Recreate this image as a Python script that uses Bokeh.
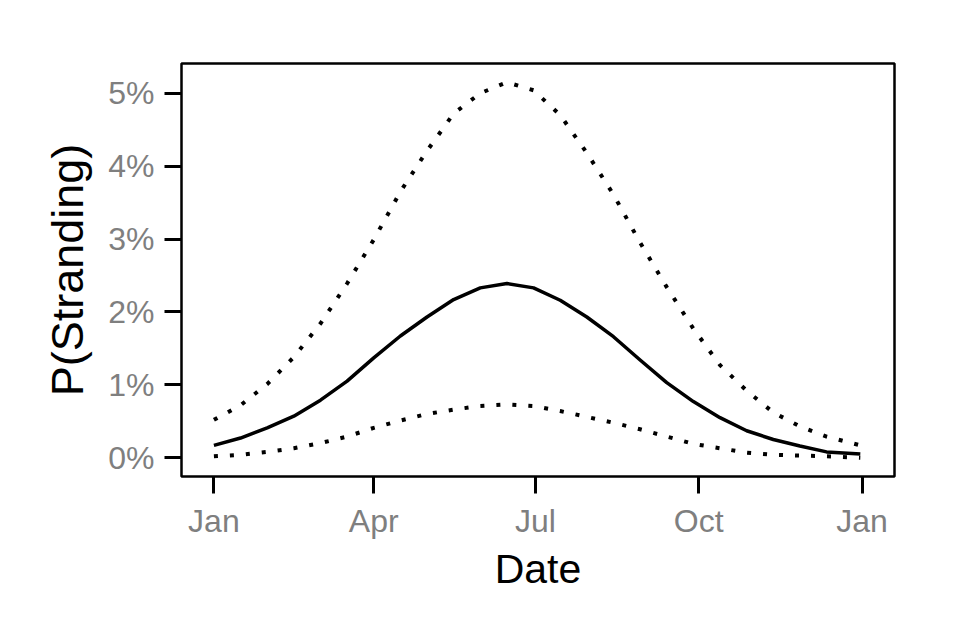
import pandas as pd
from bokeh.plotting import figure
from bokeh.models import Range1d, FixedTicker, DatetimeTickFormatter, PrintfTickFormatter, ColumnDataSource
from bokeh.embed import file_html
from bokeh.resources import INLINE

# ---- data ----
day_offsets = [0, 15, 30, 45, 60, 75, 90, 105, 120, 135, 150, 165, 180,
               195, 210, 225, 240, 255, 270, 285, 300, 315, 330, 345, 364]
mean_pct = [0.17, 0.27, 0.41, 0.57, 0.79, 1.05, 1.37, 1.67, 1.93, 2.17, 2.33, 2.39, 2.33,
            2.16, 1.93, 1.66, 1.34, 1.03, 0.77, 0.55, 0.37, 0.25, 0.16, 0.08, 0.05]
upper_pct = [0.52, 0.72, 1.01, 1.38, 1.84, 2.39, 2.99, 3.65, 4.21, 4.72, 5.00, 5.15, 5.04,
             4.70, 4.18, 3.61, 2.95, 2.34, 1.77, 1.27, 0.92, 0.62, 0.43, 0.29, 0.17]
lower_pct = [0.02, 0.04, 0.08, 0.13, 0.20, 0.29, 0.41, 0.51, 0.60, 0.66, 0.71, 0.73, 0.71,
             0.64, 0.56, 0.48, 0.39, 0.29, 0.19, 0.13, 0.07, 0.04, 0.03, 0.02, 0.00]
tick_dates = ["2015-01-01", "2015-04-01", "2015-07-01", "2015-10-01", "2016-01-01"]
y_ticks = [0, 1, 2, 3, 4, 5]

start = pd.Timestamp("2015-01-01")
dates = [start + pd.Timedelta(days=d) for d in day_offsets]
src = ColumnDataSource(dict(date=dates, mean=mean_pct, upper=upper_pct, lower=lower_pct))

tick_ms = [pd.Timestamp(t).value / 1e6 for t in tick_dates]
span = tick_ms[-1] - tick_ms[0]
pad = 0.05 * span
ymax = max(upper_pct)
ypad = 0.05 * ymax

p = figure(width=960, height=633, x_axis_type="datetime", output_backend="svg",
           toolbar_location=None,
           x_range=Range1d(tick_ms[0] - pad, tick_ms[-1] + pad),
           y_range=Range1d(-ypad, ymax + ypad))
p.min_border_left = 181
p.min_border_right = 66
p.min_border_top = 63
p.min_border_bottom = 157

p.grid.visible = False
p.outline_line_color = "black"
p.outline_line_width = 2.5
p.background_fill_color = "white"
p.border_fill_color = "white"

p.line("date", "upper", source=src, line_color="black", line_width=4, line_dash="4 12")
p.line("date", "lower", source=src, line_color="black", line_width=4, line_dash="4 12")
p.line("date", "mean", source=src, line_color="black", line_width=3.5, line_join="round")

p.xaxis.ticker = FixedTicker(ticks=tick_ms)
p.xaxis.formatter = DatetimeTickFormatter(
    milliseconds="%b", seconds="%b", minsec="%b", minutes="%b", hourmin="%b",
    hours="%b", days="%b", months="%b", years="%b")
p.yaxis.ticker = FixedTicker(ticks=y_ticks)
p.yaxis.formatter = PrintfTickFormatter(format="%d%%")

for ax in (p.xaxis, p.yaxis):
    ax.axis_line_color = None
    ax.major_tick_in = 0
    ax.major_tick_out = 17
    ax.major_tick_line_width = 3
    ax.major_tick_line_color = "black"
    ax.minor_tick_line_color = None
    ax.major_label_text_font = "Liberation Sans"
    ax.major_label_text_font_size = "32px"
    ax.major_label_text_color = "#7f7f7f"
    ax.axis_label_text_font = "Liberation Sans"
    ax.axis_label_text_font_style = "normal"
    ax.axis_label_text_color = "black"

p.xaxis.axis_label_text_font_size = "41px"
p.yaxis.axis_label_text_font_size = "45px"
p.xaxis.axis_label = "Date"
p.yaxis.axis_label = "P(Stranding)"
p.xaxis.major_label_standoff = 9
p.yaxis.major_label_standoff = 10
p.xaxis.axis_label_standoff = 4
p.yaxis.axis_label_standoff = 12

open("out.html", "w").write(file_html(p, INLINE))
